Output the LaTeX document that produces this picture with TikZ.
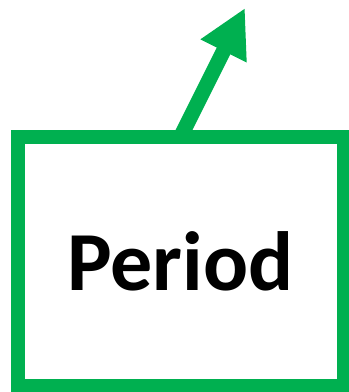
\documentclass[tikz,border=0pt]{standalone}
\usepackage{fontspec}
\setmainfont{Carlito}
\usepackage{tikz}
\usetikzlibrary{arrows.meta, positioning}
\definecolor{boxgreen}{RGB}{0,176,80}
\begin{document}
\begin{tikzpicture}[
    x=1pt, y=1pt,
    box/.style={rectangle, draw=boxgreen, line width=14pt, fill=white, minimum width=326pt, minimum height=249pt, inner sep=0pt, font=\fontsize{84}{100}\selectfont\bfseries},
    arrow/.style={-{Triangle[length=48pt, width=48pt]}, line width=15pt, boxgreen}
]
    \useasboundingbox (0,0) rectangle (349,392);
    \node[box] (period) at (180.5,130.5) {Period};
    \coordinate (tip) at (245,384);

    \draw[arrow] ([yshift=-7pt]period.north) -- (tip);
\end{tikzpicture}
\end{document}
